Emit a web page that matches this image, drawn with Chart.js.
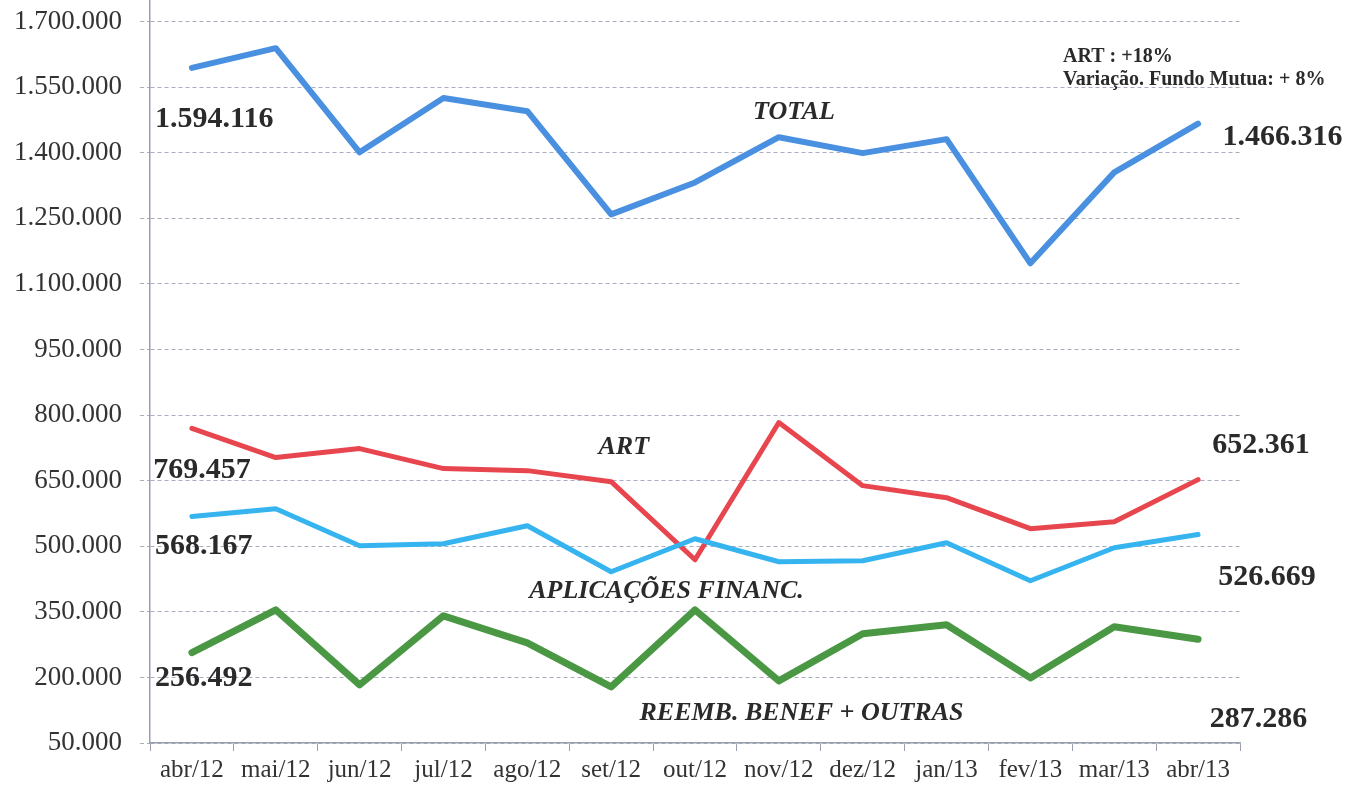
<!DOCTYPE html>
<html>
<head>
<meta charset="utf-8">
<script src="https://cdn.jsdelivr.net/npm/chart.js@4.4.1/dist/chart.umd.min.js"></script>
<style>
  html, body { margin: 0; padding: 0; background: #fff; }
</style>
</head>
<body>
<canvas id="chart" width="1355" height="786"></canvas>
<script>
const months = ['abr/12', 'mai/12', 'jun/12', 'jul/12', 'ago/12', 'set/12', 'out/12',
  'nov/12', 'dez/12', 'jan/13', 'fev/13', 'mar/13', 'abr/13']

const total = [1594116, 1639000, 1401000, 1525000, 1495000, 1259000, 1332000,
  1435500, 1399000, 1431000, 1147000, 1355000, 1466316]
const art = [769457, 702700, 723300, 677500, 672900, 647700, 469100,
  782900, 638600, 611100, 540100, 556100, 652361]
const aplicacoes = [568167, 585900, 501200, 505800, 547000, 441600, 517200,
  464500, 466800, 508100, 421000, 496600, 526669]
const reembolsos = [256492, 354600, 182900, 340900, 279100, 178300, 354600,
  192000, 299700, 320300, 198900, 315700, 287286]

const yTicks = [50000, 200000, 350000, 500000, 650000, 800000, 950000,
  1100000, 1250000, 1400000, 1550000, 1700000]

const serif = '"Liberation Serif", "Times New Roman", serif'
const axisColor = '#9a9fb0'
const gridColor = '#a9adbf'

// text on the chart, anchored in data coordinates (category index, value)
const notes = [
  { text: '1.594.116', x: -0.44, y: 1476700, font: 'bold 30px', align: 'left' },
  { text: '769.457', x: -0.46, y: 672900, font: 'bold 30px', align: 'left' },
  { text: '568.167', x: -0.44, y: 498850, font: 'bold 30px', align: 'left' },
  { text: '256.492', x: -0.44, y: 198850, font: 'bold 30px', align: 'left' },
  { text: '1.466.316', x: 12.29, y: 1435500, font: 'bold 30px', align: 'left' },
  { text: '652.361', x: 12.17, y: 730150, font: 'bold 30px', align: 'left' },
  { text: '526.669', x: 12.24, y: 430150, font: 'bold 30px', align: 'left' },
  { text: '287.286', x: 12.14, y: 104960, font: 'bold 30px', align: 'left' },
  { text: 'TOTAL', x: 7.18, y: 1492750, font: 'italic bold 26px', align: 'center' },
  { text: 'ART', x: 5.15, y: 725570, font: 'italic bold 26px', align: 'center' },
  { text: 'APLICAÇÕES FINANC.', x: 5.66, y: 398080, font: 'italic bold 26px', align: 'center' },
  { text: 'REEMB. BENEF + OUTRAS', x: 7.27, y: 118700, font: 'italic bold 26px', align: 'center' },
  { text: 'ART : +18%', x: 10.39, y: 1618700, font: 'bold 20px', align: 'left' },
  { text: 'Variação. Fundo Mutua: + 8%', x: 10.39, y: 1566030, font: 'bold 20px', align: 'left' }
]

const notesPlugin = {
  id: 'notes',
  afterDatasetsDraw(chart) {
    const { ctx, scales } = chart
    ctx.save()
    ctx.fillStyle = '#2a2a2a'
    ctx.textBaseline = 'middle'
    notes.forEach((n) => {
      ctx.font = n.font + ' ' + serif
      ctx.textAlign = n.align
      ctx.fillText(n.text, scales.x.getPixelForValue(n.x), scales.y.getPixelForValue(n.y))
    })
    ctx.restore()
  }
}

function formatThousands(v) {
  return String(v).replace(/\B(?=(\d{3})+(?!\d))/g, '.')
}

function series(data, color, width) {
  return {
    data,
    borderColor: color,
    backgroundColor: color,
    borderWidth: width,
    pointRadius: 0,
    tension: 0,
    borderCapStyle: 'round',
    borderJoinStyle: 'round'
  }
}

new Chart(document.getElementById('chart'), {
  type: 'line',
  data: {
    labels: months,
    datasets: [
      series(total, '#4a90e0', 6),
      series(aplicacoes, '#36b4f0', 5),
      series(art, '#e8464e', 5),
      series(reembolsos, '#4a9843', 7)
    ]
  },
  options: {
    responsive: false,
    devicePixelRatio: 1,
    animation: false,
    layout: { padding: { top: 0, right: 115, bottom: 0, left: 0 } },
    plugins: {
      legend: { display: false },
      tooltip: { enabled: false }
    },
    scales: {
      x: {
        type: 'category',
        offset: true,
        grid: {
          offset: true,
          drawOnChartArea: false,
          drawTicks: true,
          tickLength: 8,
          color: axisColor
        },
        border: { display: true, color: axisColor, width: 1.5 },
        ticks: {
          color: '#333',
          font: { family: serif, size: 25 },
          padding: 4,
          maxRotation: 0,
          autoSkip: false
        },
        afterFit(s) {
          s.height = 43
          s.paddingLeft = 0
          s.paddingRight = 0
        }
      },
      y: {
        type: 'linear',
        min: 50000,
        max: 1749237,
        afterBuildTicks(s) { s.ticks = yTicks.map((v) => ({ value: v })) },
        grid: {
          color: gridColor,
          lineWidth: 1,
          tickLength: 10,
          tickBorderDash: [4, 3]
        },
        border: { display: true, color: axisColor, width: 1.5, dash: [4, 3] },
        ticks: {
          color: '#333',
          font: { family: serif, size: 27 },
          padding: 18,
          callback: (v) => formatThousands(v)
        },
        afterFit(s) {
          s.width = 150
          s.paddingTop = 0
          s.paddingBottom = 0
        }
      }
    }
  },
  plugins: [notesPlugin]
})
</script>
</body>
</html>
